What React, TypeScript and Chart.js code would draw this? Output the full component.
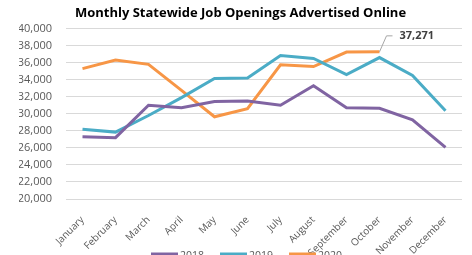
import React, { useEffect, useRef } from "react";
import { Chart, registerables } from "chart.js";

Chart.register(...registerables);

const months = ["January", "February", "March", "April", "May", "June", "July", "August", "September", "October", "November", "December"];
const seriesNames = ["2018", "2019", "2020"];
const values2018 = [27300, 27200, 31000, 30700, 31450, 31500, 31000, 33300, 30700, 30650, 29300, 26050];
const values2019 = [28200, 27850, 29800, 31900, 34150, 34200, 36850, 36500, 34600, 36600, 34500, 30350];
const values2020 = [35300, 36300, 35800, 32750, 29650, 30600, 35750, 35550, 37250, 37271];
const yTicksMin = 20000;
const yTicksMax = 40000;
const yTickStep = 2000;
const calloutIndex = 9;
const calloutLabel = "37,271";

const colors = ["#8064a2", "#4bacc6", "#f79646"];
const FONT = "'Open Sans', sans-serif";

const calloutPlugin = {
  id: "callout",
  afterDatasetsDraw(chart: any) {
    const meta = chart.getDatasetMeta(2);
    const pt = meta.data[calloutIndex];
    if (!pt) return;
    const ctx = chart.ctx;
    const x = pt.x;
    const y = pt.y;
    ctx.save();
    ctx.strokeStyle = "#a6a6a6";
    ctx.lineWidth = 1;
    ctx.beginPath();
    ctx.moveTo(x, y);
    ctx.lineTo(x + 7, y - 16);
    ctx.lineTo(x + 13, y - 16);
    ctx.stroke();
    ctx.fillStyle = "#404040";
    ctx.font = `bold 11px ${FONT}`;
    ctx.textAlign = "left";
    ctx.textBaseline = "middle";
    ctx.fillText(calloutLabel, x + 20, y - 16);
    ctx.restore();
  },
};

const bottomLegendPlugin = {
  id: "bottomLegend",
  afterDraw(chart: any) {
    const ctx = chart.ctx;
    const ds = chart.data.datasets;
    ctx.save();
    ctx.font = `10.5px ${FONT}`;
    const lineLen = 27;
    const textGap = 2;
    const itemGap = 16;
    const widths = ds.map((d: any) => lineLen + textGap + ctx.measureText(d.label).width);
    const total = widths.reduce((a: number, b: number) => a + b, 0) + itemGap * (ds.length - 1);
    const centerX = (chart.chartArea.left + chart.chartArea.right) / 2 - 17.5;
    let x = centerX - total / 2;
    const y = chart.height - 1;
    ds.forEach((d: any, i: number) => {
      ctx.strokeStyle = d.borderColor;
      ctx.lineWidth = 3;
      ctx.beginPath();
      ctx.moveTo(x, y);
      ctx.lineTo(x + lineLen, y);
      ctx.stroke();
      ctx.fillStyle = "#595959";
      ctx.textAlign = "left";
      ctx.textBaseline = "middle";
      ctx.fillText(d.label, x + lineLen + textGap, y + 2);
      x += widths[i] + itemGap;
    });
    ctx.restore();
  },
};

export default function App() {
  const ref = useRef<HTMLCanvasElement>(null);
  useEffect(() => {
    if (!ref.current) return;
    const chart = new Chart(ref.current, {
      type: "line",
      data: {
        labels: months,
        datasets: [values2018, values2019, values2020].map((d, i) => ({
          label: seriesNames[i],
          data: d,
          borderColor: colors[i],
          backgroundColor: colors[i],
          borderWidth: 3,
          pointRadius: 0,
          tension: 0,
          fill: false,
        })),
      },
      options: {
        responsive: false,
        animation: false,
        layout: { padding: { left: 19, right: 0, top: 0, bottom: 0 } },
        plugins: {
          tooltip: { enabled: false },
          legend: { display: false },
          title: {
            display: true,
            text: "Monthly Statewide Job Openings Advertised Online",
            color: "#000000",
            font: { family: FONT, size: 13, weight: "bold" },
            padding: { top: 5, bottom: 8 },
          },
        },
        scales: {
          x: {
            offset: true,
            grid: { display: false },
            border: { display: false },
            ticks: {
              color: "#595959",
              font: { family: FONT, size: 10 },
              maxRotation: 45,
              minRotation: 45,
              padding: 7,
            },
            afterFit: (scale: any) => {
              scale.height = 56;
            },
          },
          y: {
            min: yTicksMin,
            max: yTicksMax,
            grid: { color: "#d9d9d9", lineWidth: 1, drawTicks: false },
            border: { display: false },
            ticks: {
              stepSize: yTickStep,
              color: "#595959",
              font: { family: FONT, size: 11 },
              padding: 14,
              callback: (v: any) => Number(v).toLocaleString("en-US"),
            },
            afterFit: (scale: any) => {
              scale.width = 47;
            },
          },
        },
      },
      plugins: [calloutPlugin, bottomLegendPlugin],
    });
    return () => chart.destroy();
  }, []);
  return (
    <div style={{ position: "fixed", left: 0, top: 0, width: 472, height: 255, overflow: "hidden", background: "#fff" }}>
      <canvas ref={ref} width={462} height={255} style={{ width: 462, height: 255, display: "block" }} />
    </div>
  );
}
